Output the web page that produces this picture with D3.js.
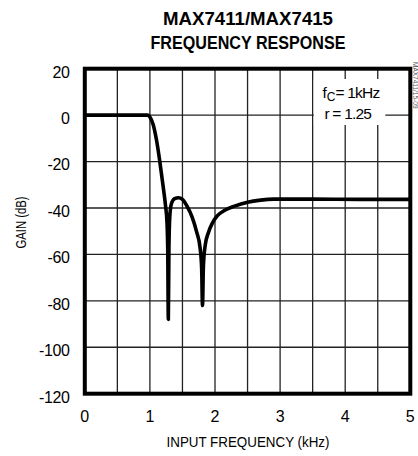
<!DOCTYPE html>
<html>
<head>
<meta charset="utf-8">
<script src="https://cdn.jsdelivr.net/npm/d3@7"></script>
<style>
  html, body { margin: 0; padding: 0; background: #fff; }
  svg { display: block; }
  text { font-family: "Liberation Sans", Arial, Helvetica, sans-serif; fill: #000; }
</style>
</head>
<body>
<svg id="chart" width="418" height="456"></svg>
<script>
// ---- data ----
const titleLines = ["MAX7411/MAX7415", "FREQUENCY RESPONSE"];
const xLabel = "INPUT FREQUENCY (kHz)";
const yLabel = "GAIN (dB)";
const xTicks = [0, 1, 2, 3, 4, 5];
const yTicks = [20, 0, -20, -40, -60, -80, -100, -120];
const xGrid = [0.5, 1, 1.5, 2, 2.5, 3, 3.5, 4, 4.5];
const yGrid = [0, -20, -40, -60, -80, -100];
const freqKHz = [0, 0.5, 0.97, 1.0, 1.05, 1.1, 1.15, 1.2, 1.24, 1.262, 1.274, 1.283, 1.292, 1.305, 1.33, 1.38, 1.44, 1.5, 1.57, 1.65, 1.72, 1.77, 1.795, 1.808, 1.822, 1.85, 1.9, 1.96, 2.03, 2.15, 2.3, 2.5, 2.7, 2.9, 3.5, 4.2, 5.0];
const gainDB  = [0, 0, 0, -0.8, -4, -10.5, -19.5, -30, -39, -46, -58, -88, -58, -44, -38.2, -36, -35.6, -36.3, -39.2, -44, -50.5, -57, -66, -82, -65, -56, -50.5, -46.5, -43.5, -41, -39.2, -37.5, -36.6, -36.2, -36.2, -36.3, -36.3];
const notes = ["= 1kHz", "r = 1.25"];
const docCode = "MAX7411/15-09";

// ---- layout ----
const svg = d3.select("#chart");
const x = d3.scaleLinear().domain([0, 5]).range([84.8, 410.3]);
const y = d3.scaleLinear().domain([20, -120]).range([68.7, 393.7]);

// grid
svg.append("g").selectAll("line").data(xGrid).join("line")
  .attr("x1", d => x(d)).attr("x2", d => x(d))
  .attr("y1", y(20)).attr("y2", y(-120))
  .attr("stroke", "#222").attr("stroke-width", 1.3);
svg.append("g").selectAll("line").data(yGrid).join("line")
  .attr("x1", x(0)).attr("x2", x(5))
  .attr("y1", d => y(d)).attr("y2", d => y(d))
  .attr("stroke", "#222").attr("stroke-width", 1.3);

// curve
const line = d3.line().x(d => x(d[0])).y(d => y(d[1])).curve(d3.curveMonotoneX);
svg.append("path")
  .datum(freqKHz.map((f, i) => [f, gainDB[i]]))
  .attr("d", line)
  .attr("fill", "none").attr("stroke", "#000")
  .attr("stroke-width", 3.6).attr("stroke-linejoin", "round");

// frame
svg.append("rect")
  .attr("x", x(0)).attr("y", y(20))
  .attr("width", x(5) - x(0)).attr("height", y(-120) - y(20))
  .attr("fill", "none").attr("stroke", "#000").attr("stroke-width", 4);

// annotation box
svg.append("rect").attr("x", 313.8).attr("y", 79).attr("width", 71.5).attr("height", 46).attr("fill", "#fff");
const t1 = svg.append("text").attr("x", 322.5).attr("y", 98.3).attr("font-size", 15.5);
t1.append("tspan").text("f");
t1.append("tspan").attr("font-size", 12).attr("dy", 3).text("C");
t1.append("tspan").attr("dy", -3).attr("letter-spacing", -0.8).text(notes[0]);
svg.append("text").attr("x", 324.5).attr("y", 118.5).attr("font-size", 15.5)
  .attr("letter-spacing", -0.8).text(notes[1]);

// tick labels
svg.append("g").selectAll("text").data(yTicks).join("text")
  .attr("x", 69.5).attr("y", d => y(d) + 8.8)
  .attr("text-anchor", "end").attr("font-size", 16).attr("letter-spacing", -0.4)
  .text(d => d);
svg.append("g").selectAll("text").data(xTicks).join("text")
  .attr("x", d => x(d)).attr("y", 422)
  .attr("text-anchor", "middle").attr("font-size", 16)
  .text(d => d);

// titles
svg.append("text").attr("x", 248).attr("y", 25).attr("text-anchor", "middle")
  .attr("font-size", 18.5).attr("font-weight", "bold")
  .attr("textLength", 170).attr("lengthAdjust", "spacingAndGlyphs").text(titleLines[0]);
svg.append("text").attr("x", 248).attr("y", 49).attr("text-anchor", "middle")
  .attr("font-size", 18.5).attr("font-weight", "bold")
  .attr("textLength", 195).attr("lengthAdjust", "spacingAndGlyphs").text(titleLines[1]);

svg.append("text").attr("x", 248).attr("y", 446.5).attr("text-anchor", "middle")
  .attr("font-size", 14.5).attr("textLength", 163).attr("lengthAdjust", "spacingAndGlyphs")
  .text(xLabel);
svg.append("text").attr("transform", "translate(25.5,222.5) rotate(-90)")
  .attr("text-anchor", "middle").attr("font-size", 14.5)
  .attr("textLength", 52).attr("lengthAdjust", "spacingAndGlyphs")
  .text(yLabel);

// side document code
svg.append("text").attr("transform", "translate(412.8,62) rotate(90)")
  .attr("font-size", 6.5).style("fill", "#555")
  .text(docCode);
</script>
</body>
</html>
